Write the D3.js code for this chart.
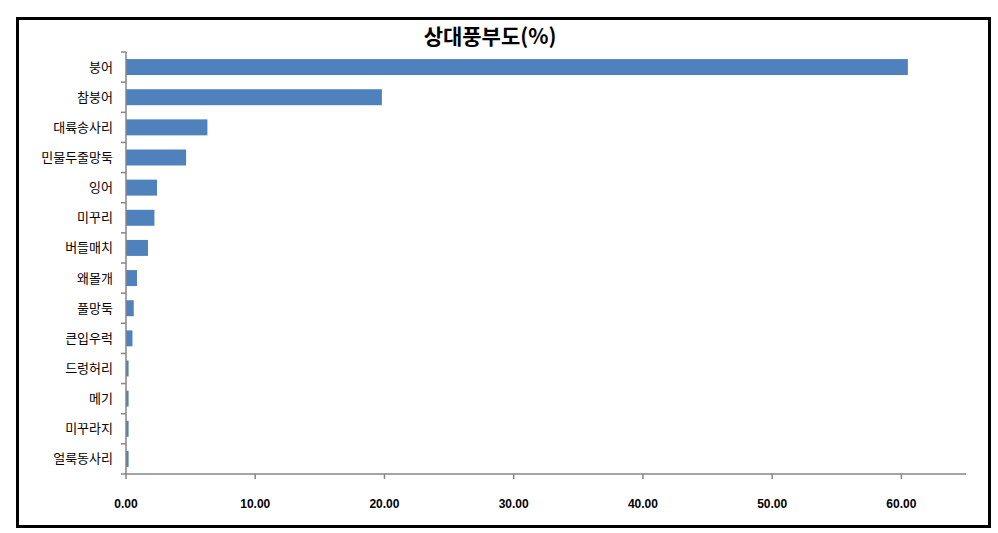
<!DOCTYPE html>
<html><head><meta charset="utf-8">
<script src="https://cdn.jsdelivr.net/npm/d3@7/dist/d3.min.js"></script>
<style>
html,body{margin:0;padding:0;background:#fff;}
svg{display:block;}
</style></head>
<body>
<svg id="chart" width="998" height="533"></svg>
<script>
const categories = ["붕어","참붕어","대륙송사리","민물두줄망둑","잉어","미꾸리","버들매치","왜몰개","풀망둑","큰입우럭","드렁허리","메기","미꾸라지","얼룩동사리"];
const values = [60.5, 19.8, 6.3, 4.65, 2.4, 2.2, 1.7, 0.85, 0.6, 0.5, 0.2, 0.2, 0.2, 0.2];
const xTicks = [0, 10, 20, 30, 40, 50, 60];
const title = "상대풍부도(%)";

const svg = d3.select("#chart");
const W = 998, H = 533;
svg.append("rect").attr("x",0).attr("y",0).attr("width",W).attr("height",H).attr("fill","#fff");
svg.append("rect").attr("x",17.5).attr("y",18.5).attr("width",972).attr("height",508)
  .attr("fill","none").attr("stroke","#000").attr("stroke-width",3);

const pLeft = 126, pRight = 966, pTop = 52, pBottom = 474;
const x = d3.scaleLinear().domain([0,65]).range([pLeft, pRight]);
const y = d3.scaleBand().domain(categories).range([pTop,pBottom]).paddingInner(0.47).paddingOuter(0.235);

svg.append("text").attr("x",490).attr("y",44).attr("text-anchor","middle")
  .attr("font-family","'Noto Sans CJK KR', sans-serif").attr("font-weight","bold")
  .attr("font-size",21).attr("fill","#000").text(title);

svg.append("g").selectAll("rect").data(values).join("rect")
  .attr("x", x(0)).attr("y",(d,i)=>y(categories[i]))
  .attr("width",d=>x(d)-x(0)).attr("height",y.bandwidth())
  .attr("fill","#4F81BD");

// y axis
const gy = svg.append("g");
gy.append("line").attr("x1",pLeft).attr("x2",pLeft).attr("y1",pTop).attr("y2",pBottom).attr("stroke","#868686").attr("stroke-width",1.5);
const step = (pBottom-pTop)/categories.length;
gy.selectAll("line.t").data(d3.range(categories.length+1)).join("line").attr("class","t")
  .attr("x1",pLeft-5).attr("x2",pLeft).attr("y1",i=>pTop+i*step).attr("y2",i=>pTop+i*step)
  .attr("stroke","#868686").attr("stroke-width",1.5);
gy.selectAll("text").data(categories).join("text")
  .attr("x",113).attr("y",d=>y(d)+y.bandwidth()/2).attr("dy","0.35em")
  .attr("text-anchor","end").attr("font-family","'Noto Sans CJK KR', sans-serif")
  .attr("font-size",13).attr("fill","#000").text(d=>d);

// x axis
const gx = svg.append("g").attr("transform",`translate(0,${pBottom})`);
gx.append("line").attr("x1",pLeft).attr("x2",pRight).attr("y1",0).attr("y2",0).attr("stroke","#868686").attr("stroke-width",1.5);
gx.selectAll("line.t").data(xTicks).join("line").attr("class","t")
  .attr("x1",d=>x(d)).attr("x2",d=>x(d)).attr("y1",0).attr("y2",5)
  .attr("stroke","#868686").attr("stroke-width",1.5);
gx.selectAll("text").data(xTicks).join("text")
  .attr("x",d=>x(d)).attr("y",34).attr("text-anchor","middle")
  .attr("font-family","'Liberation Sans Narrow','Arial Narrow','Liberation Sans',sans-serif")
  .attr("font-weight","bold").attr("font-size",12).attr("fill","#000")
  .text(d=>d.toFixed(2));
</script>
</body></html>
